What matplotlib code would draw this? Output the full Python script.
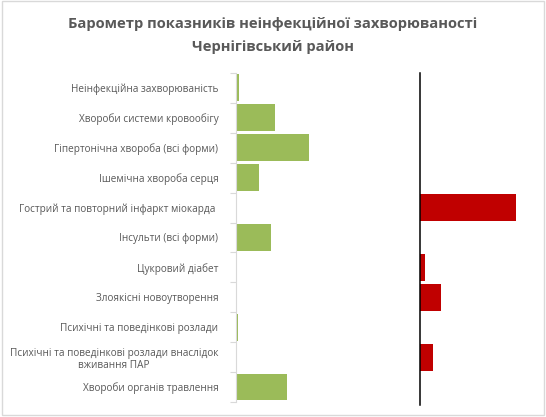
import matplotlib.pyplot as plt
import numpy as np

# categories top -> bottom
categories = ['Неінфекційна захворюваність',
              'Хвороби системи кровообігу',
              'Гіпертонічна хвороба (всі форми)',
              'Ішемічна хвороба серця',
              'Гострий та повторний інфаркт міокарда ',
              'Інсульти (всі форми)',
              'Цукровий діабет',
              'Злоякісні новоутворення',
              'Психічні та поведінкові розлади',
              'Психічні та поведінкові розлади внаслідок\nвживання ПАР',
              'Хвороби органів травлення']

# decrease (green) and increase (red)
decrease = [1.5, 19.5, 36.5, 11.5, 0, 17.5, 0, 0, 1, 0, 25.5]
increase = [0, 0, 0, 0, 48, 0, 2.5, 10.5, 0, 6.5, 0]

green = '#9bbb59'
red = '#c00000'
grey = '#595959'

plt.rcParams['font.family'] = ['Open Sans', 'DejaVu Sans']

fig = plt.figure(figsize=(5.46, 4.17), dpi=100)
ax = fig.add_axes([0.433, 0.036, 0.538, 0.789])
y = np.arange(len(categories))

ax.barh(y, decrease, height=0.9, color=green)
ax.set_xlim(0, 147)
ax.set_ylim(len(categories) - 0.5, -0.5)
ax.set_yticks(np.arange(len(categories) + 1) - 0.5, minor=False)
ax.set_yticklabels([])
ax.set_yticks(y, minor=True)
ax.set_yticklabels(categories, minor=True, fontsize=7.2, color=grey,
                   multialignment='center')
ax.tick_params(axis='y', which='minor', length=0, pad=13)
ax.tick_params(axis='y', which='major', length=4, color='#d9d9d9')
ax.set_xticks([])
for s in ['top', 'right', 'bottom']:
    ax.spines[s].set_visible(False)
ax.spines['left'].set_color('#d9d9d9')

# increases on a second axis with zero at the barometer line
ax2 = ax.twiny()
ax2.barh(y, increase, height=0.9, color=red)
ax2.set_xlim(-92, 55)
ax2.axvline(0, ymin=-0.01, ymax=1, color='black', lw=1.1, clip_on=False)
ax2.set_xticks([])
for s in ax2.spines.values():
    s.set_visible(False)

fig.text(0.5, 0.943, 'Барометр показників неінфекційної захворюваності',
         ha='center', va='center', fontsize=10.6, fontweight='bold', color=grey)
fig.text(0.5, 0.888, 'Чернігівський район',
         ha='center', va='center', fontsize=10.6, fontweight='bold', color=grey)

# outer chart border
fig.patches.append(plt.Rectangle((0.003, 0.004), 0.993, 0.993, transform=fig.transFigure,
                                 fill=False, edgecolor='#d9d9d9', lw=1))

fig.savefig('out.png', dpi=100)
